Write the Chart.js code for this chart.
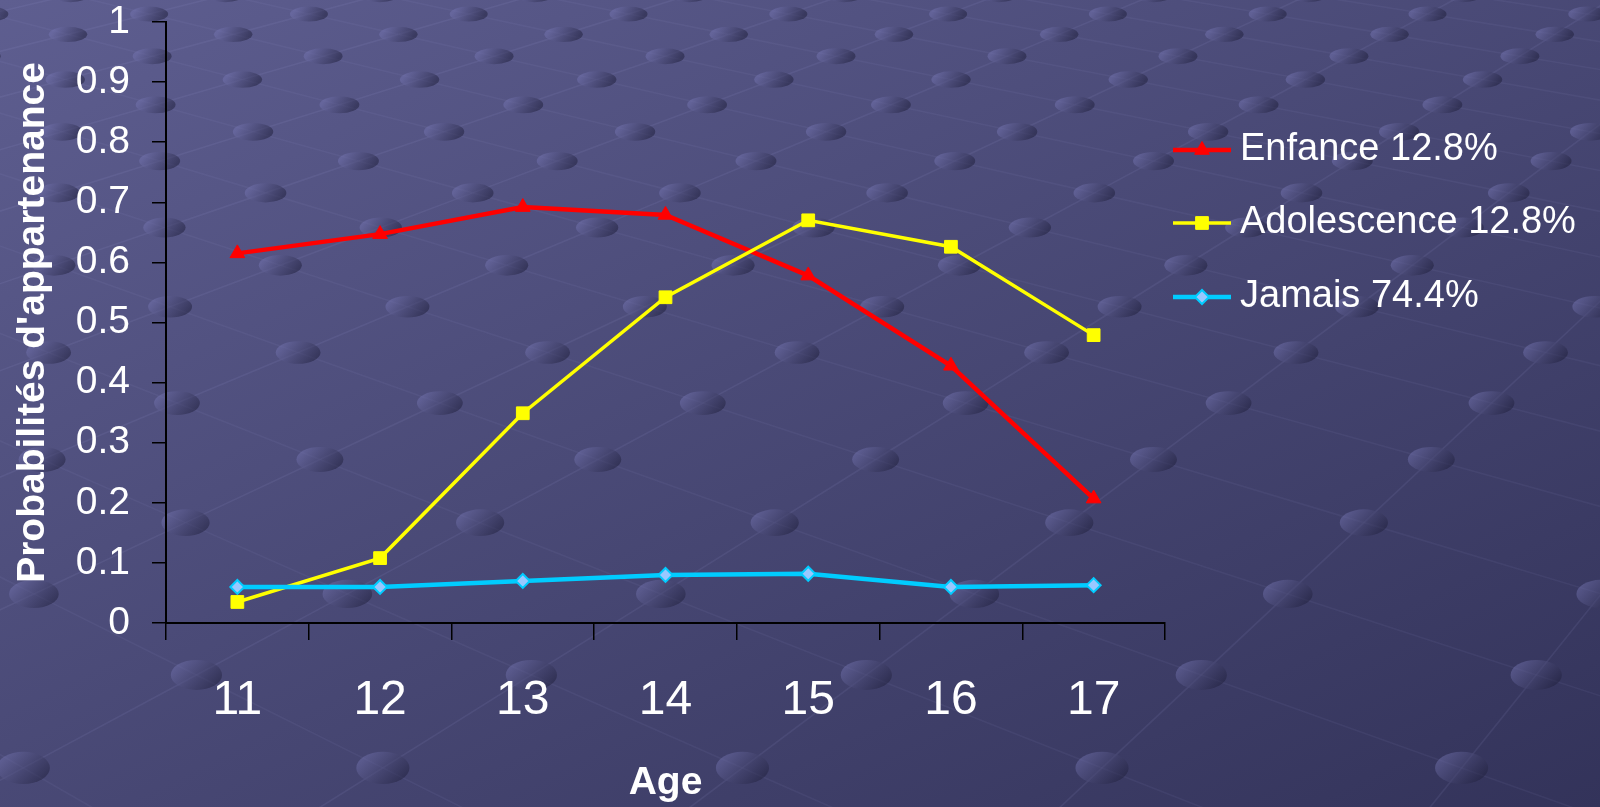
<!DOCTYPE html>
<html>
<head>
<meta charset="utf-8">
<script src="https://cdn.jsdelivr.net/npm/chart.js@4.4.1/dist/chart.umd.min.js"></script>
<style>
  html, body { margin: 0; padding: 0; background: #4a4a74; overflow: hidden; }
  canvas { display: block; }
</style>
</head>
<body>
<canvas id="chart" width="1600" height="807"></canvas>
<script>
const ages = ['11', '12', '13', '14', '15', '16', '17'];
const enfance = [0.615, 0.647, 0.692, 0.679, 0.578, 0.428, 0.207];
const adolescence = [0.035, 0.108, 0.349, 0.542, 0.670, 0.626, 0.479];
const jamais = [0.060, 0.060, 0.070, 0.080, 0.082, 0.060, 0.063];
const seriesNames = ['Enfance 12.8%', 'Adolescence 12.8%', 'Jamais 74.4%'];

const FONT = "'Liberation Sans', Arial, sans-serif";

// slide backdrop: diagonal gradient with a studded floor grid in perspective
const backdrop = {
  id: 'backdrop',
  beforeDraw(chart) {
    const ctx = chart.ctx;
    const w = chart.width, h = chart.height;
    ctx.save();
    const g = ctx.createLinearGradient(0, 0, 649, 1287);
    g.addColorStop(0, '#5e5e90');
    g.addColorStop(1, '#33335a');
    ctx.fillStyle = g;
    ctx.fillRect(0, 0, w, h);

    const horizon = -589, cx = 106, spread = 0.265;
    const c0 = 1 / 603, k = 5.42e-5;
    const rowY = r => horizon + 1 / (c0 - k * r);
    const dotX = (r, q) => cx + q * spread * (rowY(r) - horizon);
    const shift = r => (((r % 2) + 2) % 2) ? 0.77 : 0.27;

    const dots = [];
    for (let r = -3; r <= 19; r++) {
      const S = spread * (rowY(r) - horizon);
      const n0 = Math.floor((-300 - cx) / S) - 1;
      const n1 = Math.ceil((1900 - cx) / S) + 1;
      for (let n = n0; n <= n1; n++) dots.push([r, n + shift(r)]);
    }

    // grid lines joining neighbouring studs
    ctx.lineWidth = 1.6;
    dots.forEach(([r, q]) => {
      if (r >= 19) return;
      const x = dotX(r, q), y = rowY(r);
      ctx.strokeStyle = 'rgba(170,170,230,0.10)';
      ctx.beginPath();
      ctx.moveTo(x, y);
      ctx.lineTo(dotX(r + 1, q - 0.5), rowY(r + 1));
      ctx.stroke();
      ctx.strokeStyle = 'rgba(170,170,230,0.07)';
      ctx.beginPath();
      ctx.moveTo(x, y);
      ctx.lineTo(dotX(r + 1, q + 0.5), rowY(r + 1));
      ctx.stroke();
    });

    // studs
    dots.forEach(([r, q]) => {
      const x = dotX(r, q), y = rowY(r);
      if (x < -80 || x > w + 80 || y < -40 || y > h + 40) return;
      const depth = y - horizon;
      const rx = 13 + 0.01 * depth;
      const ry = 0.7 + 0.0113 * depth;
      const sg = ctx.createLinearGradient(x - rx * 0.6, y - ry, x + rx * 0.6, y + ry);
      sg.addColorStop(0, 'rgba(115,115,175,0.50)');
      sg.addColorStop(1, 'rgba(30,30,58,0.50)');
      ctx.fillStyle = sg;
      ctx.beginPath();
      ctx.ellipse(x, y, rx, ry, 0, 0, Math.PI * 2);
      ctx.fill();
    });
    ctx.restore();
  }
};

// legend to the right: short line with its marker, then the label
const lineLegend = {
  id: 'lineLegend',
  afterDraw(chart) {
    const ctx = chart.ctx;
    const x0 = 1173, x1 = 1231, tx = 1240;
    const rows = [150, 223, 297];
    chart.data.datasets.forEach((ds, i) => {
      const y = rows[i];
      ctx.save();
      ctx.strokeStyle = ds.borderColor;
      ctx.lineWidth = ds.borderWidth;
      ctx.beginPath();
      ctx.moveTo(x0, y);
      ctx.lineTo(x1, y);
      ctx.stroke();
      ctx.fillStyle = ds.pointBackgroundColor;
      ctx.strokeStyle = ds.pointBorderColor;
      ctx.lineWidth = ds.pointBorderWidth;
      Chart.helpers.drawPoint(ctx, {
        pointStyle: ds.pointStyle,
        radius: ds.pointRadius,
        rotation: 0,
        borderWidth: ds.pointBorderWidth
      }, (x0 + x1) / 2, y);
      ctx.fillStyle = '#ffffff';
      ctx.font = '38px ' + FONT;
      ctx.textAlign = 'left';
      ctx.textBaseline = 'middle';
      ctx.fillText(ds.label, tx, y);
      ctx.restore();
    });
  }
};

new Chart(document.getElementById('chart'), {
  type: 'line',
  data: {
    labels: ages,
    datasets: [{
      label: seriesNames[0],
      data: enfance,
      borderColor: '#ff0000',
      borderWidth: 4.5,
      pointStyle: 'triangle',
      pointRadius: 8.5,
      pointBackgroundColor: '#ff0000',
      pointBorderColor: '#ff0000',
      pointBorderWidth: 1,
      order: 2
    }, {
      label: seriesNames[1],
      data: adolescence,
      borderColor: '#ffff00',
      borderWidth: 3.5,
      pointStyle: 'rect',
      pointRadius: 9,
      pointBackgroundColor: '#ffff00',
      pointBorderColor: '#ffff00',
      pointBorderWidth: 1,
      order: 1
    }, {
      label: seriesNames[2],
      data: jamais,
      borderColor: '#00ccff',
      borderWidth: 4.5,
      pointStyle: 'rectRot',
      pointRadius: 7,
      pointBackgroundColor: '#99c8ff',
      pointBorderColor: '#00ccff',
      pointBorderWidth: 2,
      order: 0
    }]
  },
  options: {
    responsive: false,
    animation: false,
    devicePixelRatio: 1,
    layout: { padding: { top: 22, right: 435, left: 0, bottom: 0 } },
    elements: { line: { tension: 0, fill: false } },
    plugins: {
      legend: { display: false },
      tooltip: { enabled: false }
    },
    scales: {
      x: {
        type: 'category',
        offset: true,
        grid: {
          offset: true,
          drawOnChartArea: false,
          drawTicks: true,
          tickLength: 17,
          color: '#000000',
          lineWidth: 1.5
        },
        border: { display: true, color: '#000000', width: 2 },
        ticks: {
          color: '#ffffff',
          font: { family: FONT, size: 48 },
          padding: 32,
          maxRotation: 0
        },
        title: {
          display: true,
          text: 'Age',
          color: '#ffffff',
          font: { family: FONT, size: 39, weight: 'bold' },
          padding: { top: 0, bottom: 0 }
        },
        afterFit(scale) { scale.height = 184; }
      },
      y: {
        type: 'linear',
        min: 0,
        max: 1,
        ticks: {
          stepSize: 0.1,
          color: '#ffffff',
          font: { family: FONT, size: 39 },
          padding: 22,
          callback: v => String(Math.round(v * 10) / 10)
        },
        grid: {
          drawOnChartArea: false,
          drawTicks: true,
          tickLength: 14,
          color: '#000000',
          lineWidth: 1.5
        },
        border: { display: true, color: '#000000', width: 2 },
        title: {
          display: true,
          text: "Probabilités d'appartenance",
          color: '#ffffff',
          font: { family: FONT, size: 39, weight: 'bold' },
          padding: { top: 10, bottom: 0 }
        },
        afterFit(scale) {
          scale.width = 166;
          // the tick padding is horizontal only; keep it off the plot's top edge
          scale.paddingTop = 0;
          scale.paddingBottom = 0;
        }
      }
    }
  },
  plugins: [backdrop, lineLegend]
});
</script>
</body>
</html>
